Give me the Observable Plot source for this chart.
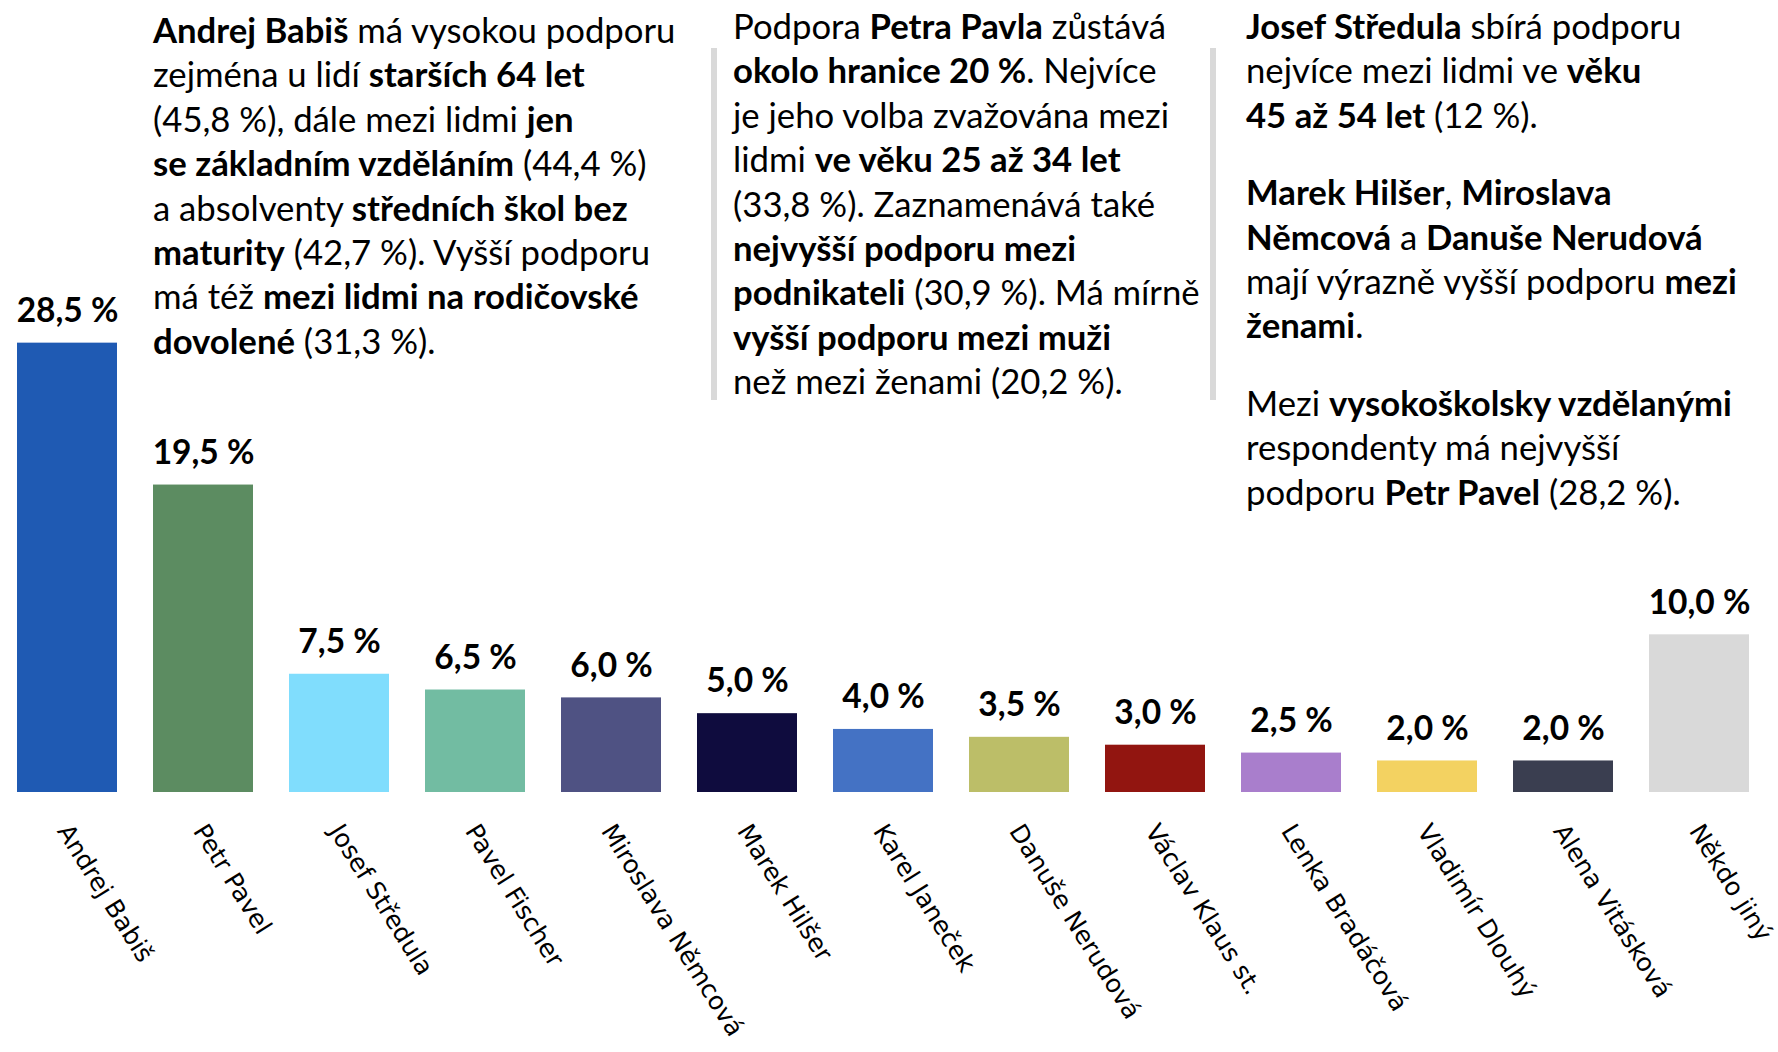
<!DOCTYPE html>
<html>
<head>
<meta charset="utf-8">
<script src="https://cdn.jsdelivr.net/npm/d3@7"></script>
<script src="https://cdn.jsdelivr.net/npm/@observablehq/plot@0.6"></script>
<style>
  html, body { margin: 0; padding: 0; background: #fff; }
  #wrap { position: relative; width: 1778px; height: 1052px; overflow: hidden; }
  #wrap svg { position: absolute; left: 0; top: 0; }
  .note { position: absolute; font-family: Lato, "Open Sans", sans-serif; font-size: 34.7px; line-height: 44.4px; color: #000; white-space: nowrap; }
  .note b { font-weight: 700; }
  .gap { height: 33px; }
  .sep { position: absolute; width: 6px; background: #d9d9d9; }
</style>
</head>
<body>
<div id="wrap"></div>
<script>
// ---- data ----
const candidates = ["Andrej Babiš", "Petr Pavel", "Josef Středula", "Pavel Fischer", "Miroslava Němcová", "Marek Hilšer", "Karel Janeček", "Danuše Nerudová", "Václav Klaus st.", "Lenka Bradáčová", "Vladimír Dlouhý", "Alena Vitásková", "Někdo jiný"];
const support = [28.5, 19.5, 7.5, 6.5, 6.0, 5.0, 4.0, 3.5, 3.0, 2.5, 2.0, 2.0, 10.0];
const barColors = ["#1f5ab3", "#5c8c61", "#80ddfd", "#72bca2", "#4f5283", "#0f0c3e", "#4472c4", "#bcbe68", "#921510", "#a97ecc", "#f3d261", "#3a3e50", "#d9d9d9"];

const note1 = [
  "**Andrej Babiš** má vysokou podporu",
  "zejména u lidí **starších 64 let**",
  "(45,8 %), dále mezi lidmi **jen**",
  "**se základním vzděláním** (44,4 %)",
  "a absolventy **středních škol bez**",
  "**maturity** (42,7 %). Vyšší podporu",
  "má též **mezi lidmi na rodičovské**",
  "**dovolené** (31,3 %)."
];
const note2 = [
  "Podpora **Petra Pavla** zůstává",
  "**okolo hranice 20 %**. Nejvíce",
  "je jeho volba zvažována mezi",
  "lidmi **ve věku 25 až 34 let**",
  "(33,8 %). Zaznamenává také",
  "**nejvyšší podporu mezi**",
  "**podnikateli** (30,9 %). Má mírně",
  "**vyšší podporu mezi muži**",
  "než mezi ženami (20,2 %)."
];
const note3 = [
  "**Josef Středula** sbírá podporu",
  "nejvíce mezi lidmi ve **věku**",
  "**45 až 54 let** (12 %).",
  "",
  "**Marek Hilšer**, **Miroslava**",
  "**Němcová** a **Danuše Nerudová**",
  "mají výrazně vyšší podporu **mezi**",
  "**ženami**.",
  "",
  "Mezi **vysokoškolsky vzdělanými**",
  "respondenty má nejvyšší",
  "podporu **Petr Pavel** (28,2 %)."
];

const rows = candidates.map((name, i) => ({name, value: support[i], color: barColors[i]}));
const fmt = v => v.toFixed(1).replace(".", ",") + " %";

const chart = Plot.plot({
  width: 1778,
  height: 1052,
  marginTop: 319,
  marginBottom: 260,
  marginLeft: 16,
  marginRight: 29,
  x: {domain: candidates, paddingInner: 0.265, paddingOuter: 0, axis: null},
  y: {domain: [0, 30], axis: null},
  marks: [
    Plot.barY(rows, {x: "name", y: "value", fill: "color"}),
    Plot.text(rows, {x: "name", y: "value", text: d => fmt(d.value), dy: -32, lineAnchor: "middle",
      fontFamily: "Lato, sans-serif", fontWeight: 700, fontSize: 33.5, fill: "#000"}),
    Plot.text(rows, {x: "name", frameAnchor: "bottom", text: "name", rotate: 58, textAnchor: "start", lineAnchor: "top",
      dx: 4, dy: 29, fontFamily: "'DejaVu Sans', sans-serif", fontSize: 25, fill: "#000"})
  ]
});
const wrap = document.getElementById("wrap");
wrap.appendChild(chart);

function md(line) {
  return line.replace(/\*\*(.+?)\*\*/g, "<b>$1</b>");
}
function addNote(lines, left, top) {
  const d = document.createElement("div");
  d.className = "note";
  d.style.left = left + "px";
  d.style.top = top + "px";
  d.innerHTML = lines.map(l => l === "" ? '<div class="gap"></div>' : "<div>" + md(l) + "</div>").join("");
  wrap.appendChild(d);
}
function addSep(left, top, h) {
  const s = document.createElement("div");
  s.className = "sep";
  s.style.left = left + "px";
  s.style.top = top + "px";
  s.style.height = h + "px";
  wrap.appendChild(s);
}
addSep(711, 48, 352);
addSep(1210, 48, 352);
addNote(note1, 153, 8);
addNote(note2, 733, 4);
addNote(note3, 1246, 4);
</script>
</body>
</html>
